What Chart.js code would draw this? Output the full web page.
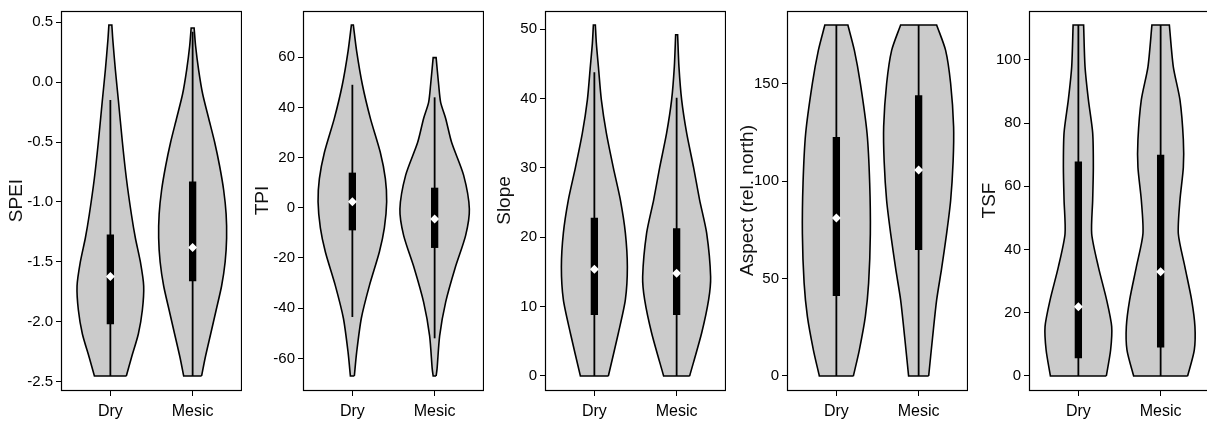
<!DOCTYPE html>
<html>
<head>
<meta charset="utf-8">
<script src="https://cdn.jsdelivr.net/npm/chart.js@4.4.0/dist/chart.umd.min.js"></script>
<style>
  html, body { margin: 0; padding: 0; background: #fff; overflow: hidden; }
  #wrap { position: relative; width: 1210px; height: 424px; }
  .panel { position: absolute; top: 0; width: 242px; height: 424px; }
</style>
</head>
<body>
<div id="wrap"></div>
<script>
// categories shared by every panel
const categories = ['Dry', 'Mesic'];

// SPEI
const speiTicks = [-2.5, -2.0, -1.5, -1.0, -0.5, 0.0, 0.5];
const speiDryLevels = [-2.45, -2.3, -2.1, -1.9, -1.7, -1.5, -1.3, -1.1, -0.8, -0.5, -0.15, 0.1, 0.35, 0.475];
const speiDryWidth = [0.194, 0.255, 0.340, 0.389, 0.405, 0.365, 0.304, 0.255, 0.194, 0.146, 0.097, 0.061, 0.030, 0.018];
const speiMesicLevels = [-2.45, -2.3, -2.1, -1.9, -1.7, -1.5, -1.3, -1.1, -0.9, -0.7, -0.5, -0.3, -0.1, 0.1, 0.3, 0.45];
const speiMesicWidth = [0.109, 0.152, 0.219, 0.286, 0.352, 0.395, 0.413, 0.407, 0.377, 0.328, 0.267, 0.194, 0.122, 0.073, 0.036, 0.018];
// box stats: lower whisker, Q1, median, Q3, upper whisker
const speiDryBox = [-2.45, -2.02, -1.62, -1.27, -0.15];
const speiMesicBox = [-2.45, -1.66, -1.38, -0.83, 0.42];

// TPI
const tpiTicks = [-60, -40, -20, 0, 20, 40, 60];
const tpiDryLevels = [-67, -57.6, -44, -31, -17.6, -8, 2.4, 11.6, 22, 35.6, 49, 62.4, 72.8];
const tpiDryWidth = [0.024, 0.052, 0.109, 0.207, 0.328, 0.389, 0.417, 0.401, 0.340, 0.219, 0.122, 0.052, 0.012];
const tpiMesicLevels = [-67, -64, -51, -37.6, -24, -11, -0.5, 13, 26, 35.6, 42, 49, 59.8];
const tpiMesicWidth = [0.018, 0.030, 0.061, 0.134, 0.249, 0.377, 0.422, 0.352, 0.207, 0.134, 0.073, 0.049, 0.018];
const tpiDryBox = [-43.5, -9, 2.4, 14, 49];
const tpiMesicBox = [-52, -16, -4.5, 8, 44];

// Slope
const slopeTicks = [0, 10, 20, 30, 40, 50];
const slopeDryLevels = [0, 6.2, 11, 15.7, 20.6, 25.4, 30, 35, 39.8, 44.6, 48, 50.6];
const slopeDryWidth = [0.170, 0.292, 0.377, 0.401, 0.377, 0.316, 0.231, 0.146, 0.085, 0.049, 0.024, 0.012];
const slopeMesicLevels = [0, 6.2, 11, 14.3, 20.6, 25.4, 30, 35, 39.8, 44.6, 49.2];
const slopeMesicWidth = [0.158, 0.304, 0.389, 0.413, 0.365, 0.279, 0.207, 0.122, 0.061, 0.028, 0.012];
const slopeDryBox = [0, 8.8, 15.4, 22.8, 43.8];
const slopeMesicBox = [0, 8.8, 14.8, 21.3, 40.1];

// Aspect
const aspectTicks = [0, 50, 100, 150];
const aspectDryLevels = [0, 13.3, 30.4, 47.6, 73, 99, 124.5, 150, 167, 180];
const aspectDryWidth = [0.207, 0.279, 0.352, 0.392, 0.413, 0.405, 0.373, 0.292, 0.219, 0.140];
const aspectMesicLevels = [0, 20, 39, 55, 73, 90, 110, 128, 150, 167, 180];
const aspectMesicWidth = [0.122, 0.170, 0.219, 0.279, 0.340, 0.389, 0.419, 0.425, 0.389, 0.328, 0.219];
const aspectDryBox = [0, 41, 81, 122.6, 180];
const aspectMesicBox = [0, 64.6, 105.6, 144, 180];

// TSF
const tsfTicks = [0, 20, 40, 60, 80, 100];
const tsfDryLevels = [0, 8.2, 15.6, 24, 34.5, 45, 55.7, 66, 76.9, 87.3, 97.8, 111];
const tsfDryWidth = [0.340, 0.392, 0.405, 0.344, 0.243, 0.162, 0.174, 0.182, 0.174, 0.122, 0.081, 0.064];
const tsfMesicLevels = [0, 8.2, 15.6, 24, 34.5, 45, 55.7, 66, 74.7, 87.3, 97.8, 111];
const tsfMesicWidth = [0.328, 0.409, 0.417, 0.377, 0.295, 0.215, 0.235, 0.276, 0.276, 0.235, 0.154, 0.106];
const tsfDryBox = [0, 5.6, 21.9, 67.8, 111];
const tsfMesicBox = [0, 9, 33, 70, 111];

const panels = [
  { title: 'SPEI', ticks: speiTicks, digits: 1, levels: [speiDryLevels, speiMesicLevels], widths: [speiDryWidth, speiMesicWidth], boxes: [speiDryBox, speiMesicBox], titleGap: 6 },
  { title: 'TPI', ticks: tpiTicks, digits: 0, levels: [tpiDryLevels, tpiMesicLevels], widths: [tpiDryWidth, tpiMesicWidth], boxes: [tpiDryBox, tpiMesicBox], titleGap: 10 },
  { title: 'Slope', ticks: slopeTicks, digits: 0, levels: [slopeDryLevels, slopeMesicLevels], widths: [slopeDryWidth, slopeMesicWidth], boxes: [slopeDryBox, slopeMesicBox], titleGap: 10 },
  { title: 'Aspect (rel. north)', ticks: aspectTicks, digits: 0, levels: [aspectDryLevels, aspectMesicLevels], widths: [aspectDryWidth, aspectMesicWidth], boxes: [aspectDryBox, aspectMesicBox], titleGap: 11 },
  { title: 'TSF', ticks: tsfTicks, digits: 0, levels: [tsfDryLevels, tsfMesicLevels], widths: [tsfDryWidth, tsfMesicWidth], boxes: [tsfDryBox, tsfMesicBox], titleGap: 11 }
];

const FONT = 'Liberation Sans, Arial, Helvetica, sans-serif';

// closed outline: right side going up, left side coming down.
// corner points are doubled so the curve keeps the flat top and bottom square
function violinPoints(center, levels, widths) {
  const right = levels.map((y, i) => ({ x: center + widths[i], y }));
  const left = levels.map((y, i) => ({ x: center - widths[i], y })).reverse();
  const n = right.length;
  return [
    ...right, right[n - 1],
    left[0], ...left, left[n - 1],
    right[0]
  ];
}

// full box round the plot region, like R's box()
const framePlugin = {
  id: 'frame',
  afterDraw(chart) {
    const { ctx, chartArea: a } = chart;
    ctx.save();
    ctx.strokeStyle = '#000';
    ctx.lineWidth = 1.2;
    ctx.strokeRect(a.left + 0.5, a.top + 0.5, a.right - a.left - 1, a.bottom - a.top);
    ctx.restore();
  }
};

const wrap = document.getElementById('wrap');

panels.forEach((p, i) => {
  const div = document.createElement('div');
  div.className = 'panel';
  div.style.left = (242 * i) + 'px';
  const canvas = document.createElement('canvas');
  canvas.width = 242;
  canvas.height = 424;
  div.appendChild(canvas);
  wrap.appendChild(div);

  const all = p.levels.flat();
  const lo = Math.min(...all), hi = Math.max(...all);
  const pad = (hi - lo) * 0.04;

  const datasets = [];
  categories.forEach((cat, k) => {
    datasets.push({
      label: cat,
      data: violinPoints(k + 1, p.levels[k], p.widths[k]),
      fill: 'shape',
      backgroundColor: '#cbcbcb',
      borderColor: '#000',
      borderWidth: 1.6,
      borderJoinStyle: 'miter',
      pointRadius: 0,
      tension: 0.25,
      order: 3
    });
  });
  categories.forEach((cat, k) => {
    const b = p.boxes[k];
    datasets.push({
      data: [{ x: k + 1, y: b[0] }, { x: k + 1, y: b[4] }],
      borderColor: '#000', borderWidth: 1.8, pointRadius: 0, fill: false, order: 2
    });
    datasets.push({
      data: [{ x: k + 1, y: b[1] }, { x: k + 1, y: b[3] }],
      borderColor: '#000', borderWidth: 7.3, borderCapStyle: 'butt', pointRadius: 0, fill: false, order: 1
    });
  });
  datasets.push({
    data: p.boxes.map((b, k) => ({ x: k + 1, y: b[2] })),
    showLine: false,
    pointStyle: 'rectRot',
    pointRadius: 4.5,
    pointBackgroundColor: '#fff',
    pointBorderColor: '#fff',
    pointBorderWidth: 0,
    order: 0
  });

  new Chart(canvas, {
    type: 'line',
    data: { datasets },
    options: {
      responsive: false,
      animation: false,
      events: [],
      layout: { autoPadding: false, padding: { top: 11, right: 0, left: 0, bottom: 0 } },
      plugins: { legend: { display: false }, tooltip: { enabled: false } },
      scales: {
        x: {
          type: 'linear',
          min: 0.4,
          max: 2.6,
          afterBuildTicks: s => { s.ticks = categories.map((c, k) => ({ value: k + 1 })); },
          afterFit: s => { s.height = 34; s.paddingLeft = 0; s.paddingRight = 0; },
          border: { display: false },
          grid: { drawOnChartArea: false, drawTicks: true, tickLength: 6, color: '#000', lineWidth: 1 },
          ticks: {
            autoSkip: false, maxRotation: 0, padding: 6, color: '#000',
            font: { family: FONT, size: 16 },
            callback: v => categories[v - 1]
          }
        },
        y: {
          min: lo - pad,
          max: hi + pad,
          afterBuildTicks: s => { s.ticks = p.ticks.map(v => ({ value: v })); },
          afterFit: s => { s.width = 61; s.paddingTop = 0; s.paddingBottom = 0; },
          border: { display: false },
          grid: { drawOnChartArea: false, drawTicks: true, tickLength: 5, color: '#000', lineWidth: 1 },
          ticks: {
            padding: 3, color: '#000',
            font: { family: FONT, size: 15 },
            callback: v => v.toFixed(p.digits)
          },
          title: {
            display: true, text: p.title, color: '#111',
            font: { family: FONT, size: 19 },
            padding: { top: p.titleGap - 1, bottom: 0 }
          }
        }
      }
    },
    plugins: [framePlugin]
  });
});
</script>
</body>
</html>
